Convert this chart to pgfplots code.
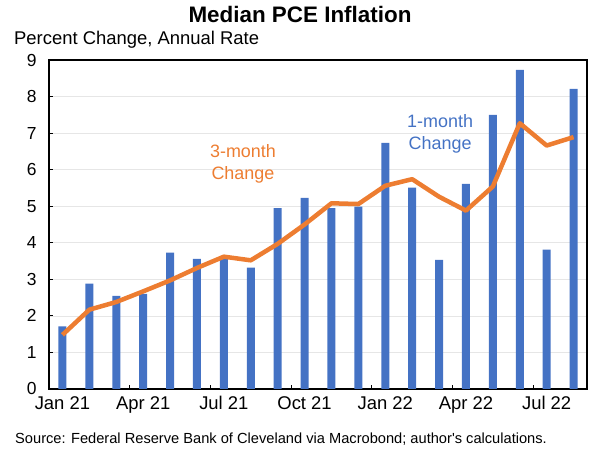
\documentclass[border=0pt]{standalone}
\usepackage{pgfplots}
\pgfplotsset{compat=1.18}
\usepackage{fontspec}
\setmainfont{Liberation Sans}[Ligatures=TeXOff]
\definecolor{barblue}{HTML}{4472C4}
\definecolor{lineorange}{HTML}{ED7D31}
\definecolor{gridgray}{HTML}{E6E6E6}
\begin{document}
\begin{tikzpicture}[x=1bp,y=1bp]
\path[use as bounding box] (0,0) rectangle (600,450);
\begin{axis}[
  at={(49bp,61bp)}, anchor=south west,
  width=538bp, height=329bp, scale only axis,
  xmin=-0.5, xmax=19.5, ymin=0, ymax=9,
  axis line style={black, line width=1.7pt},
  tick align=inside,
  xtick pos=bottom, ytick pos=left,
  xtick={2.5,5.5,8.5,11.5,14.5,17.5},
  xticklabels={},
  extra x ticks={0,3,6,9,12,15,18},
  extra x tick labels={Jan 21,Apr 21,Jul 21,Oct 21,Jan 22,Apr 22,Jul 22},
  extra x tick style={major tick length=0pt, grid=none},
  ytick={0,1,...,9},
  major tick length=4bp,
  tick style={black, line width=0.9pt},
  ymajorgrids,
  grid style={gridgray, line width=0.6pt},
  /pgf/number format/assume math mode=true,
  yticklabel style={font=\fontsize{17.5}{20}\selectfont, xshift=-9bp},
  xticklabel style={font=\fontsize{18.5}{21}\selectfont, yshift=-4bp},
  clip=false,
]
\addplot[ybar, bar width=8bp, fill=barblue, draw=none] coordinates {
(0,1.71) (1,2.88) (2,2.55) (3,2.60) (4,3.73) (5,3.56) (6,3.58) (7,3.32)
(8,4.95) (9,5.23) (10,4.95) (11,4.99) (12,6.73) (13,5.51) (14,3.53)
(15,5.61) (16,7.50) (17,8.73) (18,3.81) (19,8.21)
};
\addplot[lineorange, line width=4.5bp, line join=round, mark=none] coordinates {
(0,1.48) (1,2.17) (2,2.38) (3,2.67) (4,2.97) (5,3.31) (6,3.62) (7,3.52)
(8,3.97) (9,4.50) (10,5.08) (11,5.06) (12,5.56) (13,5.74) (14,5.26)
(15,4.88) (16,5.54) (17,7.27) (18,6.66) (19,6.89)
};
\node[lineorange, align=center, font=\fontsize{18}{22}\selectfont] at (axis cs:6.71,6.15) {3-month\\Change};
\node[barblue, align=center, font=\fontsize{18}{22}\selectfont] at (axis cs:14.04,6.98) {1-month\\Change};
\end{axis}
\node[anchor=base, font=\fontsize{22.5}{26}\selectfont\bfseries] at (300,427) {Median PCE Inflation};
\node[anchor=base west, font=\fontsize{18.5}{21}\selectfont, inner sep=0pt] at (14,405) {Percent Change, Annual Rate};
\node[anchor=base west, font=\fontsize{14.7}{17}\selectfont, inner sep=0pt] at (15,6.7) {Source: Federal Reserve Bank of Cleveland via Macrobond; author's calculations.};
\end{tikzpicture}
\end{document}
